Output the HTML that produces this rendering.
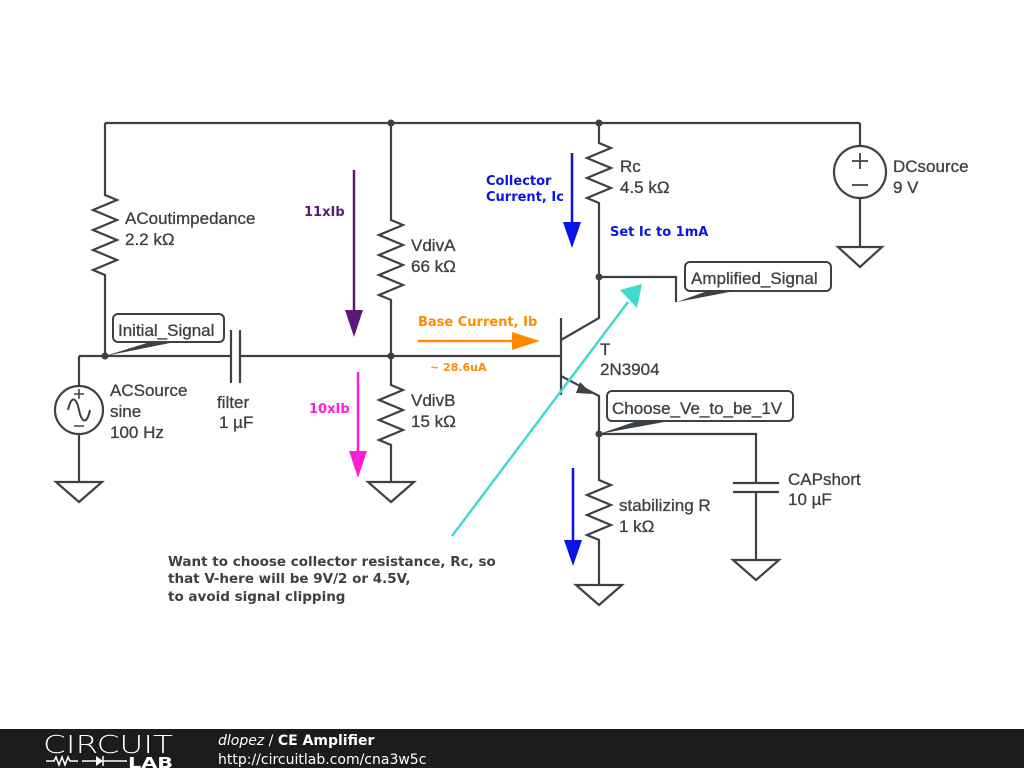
<!DOCTYPE html>
<html><head><meta charset="utf-8"><style>
body{margin:0;width:1024px;height:768px;background:#fff;overflow:hidden;font-family:"Liberation Sans",sans-serif}
svg{position:absolute;left:0;top:0}
.l{font-family:"Liberation Sans",Arial,sans-serif;font-size:17px;fill:#3c4146;stroke:#3c4146;stroke-width:0.3}
.b{font-family:"DejaVu Sans",sans-serif;font-weight:bold;font-size:13px}
</style></head><body>
<svg width="1024" height="768" viewBox="0 0 1024 768">
<g stroke="#3c4146" stroke-width="2.2" fill="none">
<path d="M105 123H860"/>
<path d="M105 123V195 l12 5 -24 10 24 10 -24 10 24 10 -24 10 24 10 -24 10 12 5V356"/>
<path d="M79 356H231 M240 356H561"/>
<path d="M231 330V383 M240 330V383"/>
<path d="M79 356V386 M79 434V482"/>
<circle cx="79" cy="410" r="24"/>
<path d="M68 410c3-14 8-14 11 0s8 14 11 0" stroke-width="2"/>
<path d="M79 389v10 M74 394h10 M74 426h10" stroke-width="1.5"/>
<path d="M56 482h46l-23 20z"/>
<path d="M391 123V220 l12 5 -24 10 24 10 -24 10 24 10 -24 10 24 10 -24 10 12 5V385 l12 5 -24 10 24 10 -24 10 24 10 -24 10 12 5V482"/>
<path d="M368 482h46l-23 20z"/>
<path d="M599 123V143 l12 5 -24 10 24 10 -24 10 24 10 -24 10 12 5V318 L561 340"/>
<path d="M561 318V395"/>
<path d="M561 376L599 396V434"/>
<path d="M599 277H676V302"/>
<path d="M599 434V480 l12 5 -24 10 24 10 -24 10 24 10 -24 10 12 5V585"/>
<path d="M576 585h46l-23 20z"/>
<path d="M599 434H756V483 M733 483h46 M733 492h46 M756 492V560"/>
<path d="M733 560h46l-23 20z"/>
<path d="M860 123V146 M860 198V247"/>
<circle cx="860" cy="172" r="26"/>
<path d="M860 153v16 M852 161h16 M852 185h16" stroke-width="1.8"/>
<path d="M838 247h44l-22 20z"/>
</g>
<polygon points="580,382 592,394 576,393" fill="#3c4146"/>
<g fill="#3c4146">
<circle cx="105" cy="356" r="3.5"/><circle cx="391" cy="123" r="3.5"/><circle cx="391" cy="356" r="3.5"/>
<circle cx="599" cy="123" r="3.5"/><circle cx="599" cy="277" r="3.5"/><circle cx="599" cy="434" r="3.5"/>
<polygon points="105,356 150,342 175,342"/>
<polygon points="677,302 710,290 740,290"/>
<polygon points="599,434 640,420 675,420"/>
</g>
<g fill="#fff" stroke="#3c4146" stroke-width="2">
<rect x="113" y="314" width="111" height="28" rx="5"/>
<rect x="685" y="262" width="146" height="29" rx="5"/>
<rect x="607" y="391" width="186" height="30" rx="5"/>
</g>
<path d="M354 170V315" stroke="#5a1a7a" stroke-width="2.5"/><polygon points="345,310 363,310 354,337" fill="#5a1a7a"/>
<path d="M358 372V455" stroke="#ff1ed2" stroke-width="2.5"/><polygon points="349,451 367,451 358,478" fill="#ff1ed2"/>
<path d="M572 153V225" stroke="#0a14e6" stroke-width="2.5"/><polygon points="563,222 581,222 572,248" fill="#0a14e6"/>
<path d="M573 468V542" stroke="#0a14e6" stroke-width="2.5"/><polygon points="564,540 582,540 573,566" fill="#0a14e6"/>
<path d="M418 341H515" stroke="#ff8c00" stroke-width="2.5"/><polygon points="512,332 540,341 512,350" fill="#ff8c00"/>
<path d="M452 536L628 302" stroke="#40dccb" stroke-width="2.5"/><polygon points="620,290 642,284 637,308" fill="#40dccb"/>
<g class="l">
<text x="118" y="336">Initial_Signal</text>
<text x="691" y="284">Amplified_Signal</text>
<text x="612" y="414">Choose_Ve_to_be_1V</text>
<text x="125" y="224">ACoutimpedance</text><text x="125" y="245">2.2 kΩ</text>
<text x="411" y="251">VdivA</text><text x="411" y="272">66 kΩ</text>
<text x="411" y="406">VdivB</text><text x="411" y="427">15 kΩ</text>
<text x="110" y="396">ACSource</text><text x="110" y="417">sine</text><text x="110" y="438">100 Hz</text>
<text x="217" y="408">filter</text><text x="219" y="428">1 µF</text>
<text x="620" y="172">Rc</text><text x="620" y="193">4.5 kΩ</text>
<text x="893" y="172">DCsource</text><text x="893" y="193">9 V</text>
<text x="600" y="355">T</text><text x="600" y="375">2N3904</text>
<text x="619" y="511">stabilizing R</text><text x="619" y="532">1 kΩ</text>
<text x="788" y="485">CAPshort</text><text x="788" y="505">10 µF</text>
</g>
<g class="b">
<text x="304" y="216" fill="#5a1a7a">11xIb</text>
<text x="309" y="413" fill="#ff1ed2">10xIb</text>
<text x="418" y="326" fill="#ff8c00">Base Current, Ib</text>
<text x="430" y="371" fill="#ff8c00" font-size="11">~ 28.6uA</text>
<text x="486" y="185" fill="#0a14e6">Collector</text><text x="486" y="201" fill="#0a14e6">Current, Ic</text>
<text x="610" y="236" fill="#0a14e6">Set Ic to 1mA</text>
<text x="168" y="566" fill="#3c4146" font-size="13.5">Want to choose collector resistance, Rc, so</text>
<text x="168" y="583" fill="#3c4146" font-size="13.5">that V-here will be 9V/2 or 4.5V,</text>
<text x="168" y="601" fill="#3c4146" font-size="13.5">to avoid signal clipping</text>
</g>
<rect x="0" y="729" width="1024" height="39" fill="#1c1c1c"/>
<text x="43" y="753" font-family="DejaVu Sans,sans-serif" font-size="25" fill="#fff" font-weight="300" textLength="130" lengthAdjust="spacingAndGlyphs">CIRCUIT</text>
<path d="M46 761h8l2-4 3 8 3-8 3 8 3-8 2 4h8 M82 761h20" stroke="#fff" stroke-width="1.5" fill="none"/>
<polygon points="96,756 103,761 96,766" fill="#fff"/>
<path d="M103 756v10 M103 761h24" stroke="#fff" stroke-width="1.5"/>
<text x="128" y="768" font-family="DejaVu Sans,sans-serif" font-size="15" font-weight="bold" fill="#fff" textLength="45" lengthAdjust="spacingAndGlyphs">LAB</text>
<text x="218" y="745" font-family="DejaVu Sans,sans-serif" font-size="14" fill="#fff"><tspan font-style="italic">dlopez</tspan> / <tspan font-weight="bold">CE Amplifier</tspan></text>
<text x="218" y="764" font-family="DejaVu Sans,sans-serif" font-size="14" fill="#fff">http://circuitlab.com/cna3w5c</text>
</svg>
</body></html>
